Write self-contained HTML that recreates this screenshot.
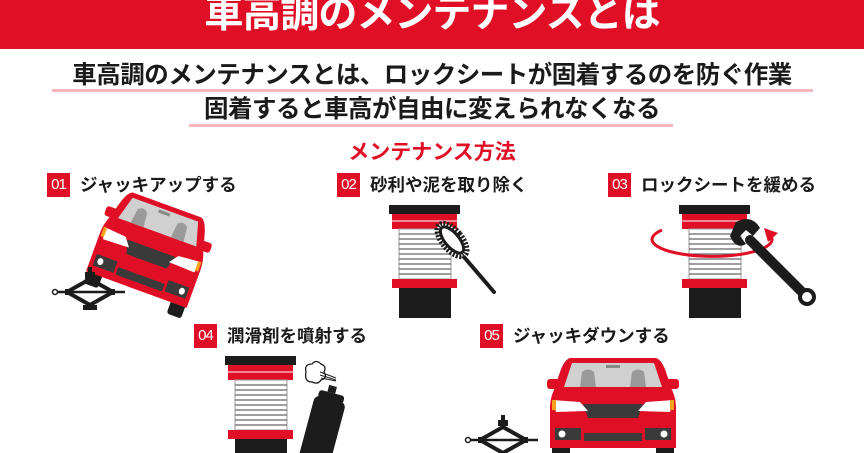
<!DOCTYPE html>
<html><head><meta charset="utf-8"><style>
*{margin:0;padding:0;box-sizing:border-box}
body{width:864px;height:453px;overflow:hidden;background:#fff;position:relative;font-family:"Liberation Sans","Noto Sans CJK JP",sans-serif;font-weight:bold}
.hdr{position:absolute;left:0;top:0;width:864px;height:49px;background:#e00f25}
.title{position:absolute;left:0;width:864px;top:-10px;text-align:center;color:#fff;font-size:39px;line-height:50px;letter-spacing:-1px}
.sub{position:absolute;left:0;width:864px;text-align:center;font-size:24.5px;line-height:28px;color:#1a1a1a;letter-spacing:-0.5px}
.ul{position:absolute;height:3px;background:#f4b6bf}
.h2{position:absolute;left:0;width:864px;top:140px;text-align:center;color:#e00f25;font-size:21px;line-height:26px}
.step{position:absolute;font-size:17.5px;line-height:24px;color:#1a1a1a;white-space:nowrap}
.step b{display:inline-block;background:#e00f25;color:#fff;width:23px;height:24px;text-align:center;font-size:15px;margin-right:10px;vertical-align:top;font-weight:normal;letter-spacing:-1px}
svg{position:absolute;left:0;top:0}
</style></head><body>
<div class="hdr"></div>
<div class="title">車高調のメンテナンスとは</div>
<div class="sub" style="top:62px">車高調のメンテナンスとは、ロックシートが固着するのを防ぐ作業</div>
<div class="ul" style="left:52px;width:761px;top:89px"></div>
<div class="sub" style="top:96px">固着すると車高が自由に変えられなくなる</div>
<div class="ul" style="left:189px;width:484px;top:124px"></div>
<div class="h2">メンテナンス方法</div>
<div class="step" style="left:47px;top:173px"><b>01</b>ジャッキアップする</div>
<div class="step" style="left:337px;top:173px"><b>02</b>砂利や泥を取り除く</div>
<div class="step" style="left:608px;top:173px"><b>03</b>ロックシートを緩める</div>
<div class="step" style="left:194px;top:324px"><b>04</b>潤滑剤を噴射する</div>
<div class="step" style="left:480px;top:324px"><b>05</b>ジャッキダウンする</div>

<svg width="864" height="453" viewBox="0 0 864 453">
<defs>
<g id="spring">
 <rect x="0" y="0" width="71" height="9" fill="#1c1c1c"/>
 <rect x="3" y="9" width="65" height="15" fill="#e00f25"/>
 <line x1="3" y1="16" x2="68" y2="16" stroke="#fff" stroke-width="1"/>
 <rect x="10" y="24" width="52" height="50" fill="#fff" stroke="#999" stroke-width="1"/>
 <g stroke="#666" stroke-width="1.3">
  <line x1="10" y1="29" x2="62" y2="29"/><line x1="10" y1="34" x2="62" y2="34"/><line x1="10" y1="39" x2="62" y2="39"/><line x1="10" y1="44" x2="62" y2="44"/><line x1="10" y1="49" x2="62" y2="49"/><line x1="10" y1="54" x2="62" y2="54"/><line x1="10" y1="59" x2="62" y2="59"/><line x1="10" y1="64" x2="62" y2="64"/><line x1="10" y1="69" x2="62" y2="69"/>
 </g>
 <rect x="3" y="74" width="65" height="9" fill="#e00f25"/>
 <rect x="10" y="83" width="52" height="30" fill="#1c1c1c"/>
</g>
<g id="car">
 <rect x="-3" y="21" width="15" height="10" rx="3" fill="#e00f25"/>
 <rect x="114" y="21" width="15" height="10" rx="3" fill="#e00f25"/>
 <rect x="2" y="80" width="18" height="22" rx="3" fill="#1c1c1c"/>
 <rect x="106" y="80" width="18" height="22" rx="3" fill="#1c1c1c"/>
 <path d="M20 0 L106 0 Q112 2 116 14 L122 32 Q126 40 126 50 L126 90 L0 90 L0 50 Q0 40 4 32 L10 14 Q14 2 20 0Z" fill="#e00f25"/>
 <path d="M22 5 L104 5 L112 29 L14 29 Z" fill="#d0d0d0"/>
 <path d="M30 29 L32 14 Q38 9 44 14 L46 29 Z" fill="#9a9a9a"/>
 <path d="M80 29 L82 14 Q88 9 94 14 L96 29 Z" fill="#9a9a9a"/>
 <rect x="56" y="7" width="14" height="3" fill="#888"/>
 <path d="M33 46 L93 46 L88 60 L38 60 Z" fill="#3a3a3a"/>
 <path d="M2 42 L30 44 L38 53 L6 54 Z" fill="#fff"/>
 <path d="M124 42 L96 44 L88 53 L120 54 Z" fill="#fff"/>
 <rect x="2" y="42" width="4" height="10" fill="#f6a21c"/>
 <rect x="120" y="42" width="4" height="10" fill="#f6a21c"/>
 <rect x="5" y="70" width="26" height="12" fill="#3a3a3a"/>
 <rect x="95" y="70" width="26" height="12" fill="#3a3a3a"/>
 <rect x="34" y="75" width="58" height="8" fill="#3a3a3a"/>
 <circle cx="12" cy="76" r="3.5" fill="#fff"/><circle cx="114" cy="76" r="3.5" fill="#fff"/>
</g>
<g id="jack">
 <line x1="0" y1="0" x2="70" y2="0" stroke="#1c1c1c" stroke-width="2.5"/>
 <circle cx="0" cy="0" r="2.5" fill="#fff" stroke="#1c1c1c" stroke-width="1.5"/>
 <path d="M12 0 L35 -13 L58 0 L35 13 Z" fill="none" stroke="#1c1c1c" stroke-width="4"/>
 <rect x="30" y="-20" width="10" height="6" fill="#1c1c1c"/><rect x="33" y="-25" width="4" height="6" fill="#1c1c1c"/>
 <rect x="28" y="13" width="14" height="5" fill="#1c1c1c"/>
 <rect x="10" y="-3" width="6" height="6" fill="#1c1c1c"/><rect x="54" y="-3" width="6" height="6" fill="#1c1c1c"/>
</g>
</defs>

<!-- step1 -->
<use href="#car" transform="translate(150 252) rotate(20) scale(0.85 1.0) translate(-63 -50)"/>
<use href="#jack" transform="translate(55 292)"/>

<!-- step2 -->
<use href="#spring" transform="translate(389 205)"/>
<line x1="458" y1="250" x2="494" y2="292" stroke="#1c1c1c" stroke-width="4" stroke-linecap="round"/>
<ellipse cx="452" cy="240" rx="10" ry="20" transform="rotate(-40 452 240)" fill="#fff" stroke="#1c1c1c" stroke-width="5" stroke-dasharray="2 1.5"/>
<ellipse cx="452" cy="240" rx="7" ry="16" transform="rotate(-40 452 240)" fill="#fff" stroke="#1c1c1c" stroke-width="3"/>

<!-- step3 -->
<use href="#spring" transform="translate(679 205)"/>
<path d="M662 230 A60 17 0 1 0 770 235" fill="none" stroke="#e00f25" stroke-width="3"/>
<path d="M764 228 L778 233 L768 242 Z" fill="#e00f25"/>
<line x1="750" y1="240" x2="805" y2="295" stroke="#1c1c1c" stroke-width="10" stroke-linecap="round"/>
<path d="M736 222 Q752 214 760 228 L753 236 L746 230 L740 236 L746 244 Q736 250 730 236 Z" fill="#1c1c1c"/>
<circle cx="807" cy="297" r="9" fill="#1c1c1c"/><circle cx="807" cy="297" r="5" fill="#fff"/>

<!-- step4 -->
<use href="#spring" transform="translate(225 356)"/>
<g transform="rotate(15 325 420)">
 <rect x="309" y="398" width="32" height="70" rx="6" fill="#1c1c1c"/>
 <rect x="312" y="392" width="26" height="8" rx="3" fill="#1c1c1c"/>
 <rect x="320" y="385" width="8" height="7" fill="#1c1c1c"/>
</g>
<path d="M306 372 q-2-8 6-8 q4-5 9 0 q6 2 3 8 q4 6-3 8 q-3 5-9 2 q-8 0-6-10z" fill="#fff" stroke="#1c1c1c" stroke-width="1.3"/>
<g stroke="#1c1c1c" stroke-width="1"><line x1="320" y1="375" x2="336" y2="380"/><line x1="320" y1="372" x2="336" y2="378"/><line x1="321" y1="378" x2="336" y2="381"/></g>

<!-- step5 -->
<use href="#car" transform="translate(550 358)"/>
<use href="#jack" transform="translate(468 440)"/>
</svg>
</body></html>
